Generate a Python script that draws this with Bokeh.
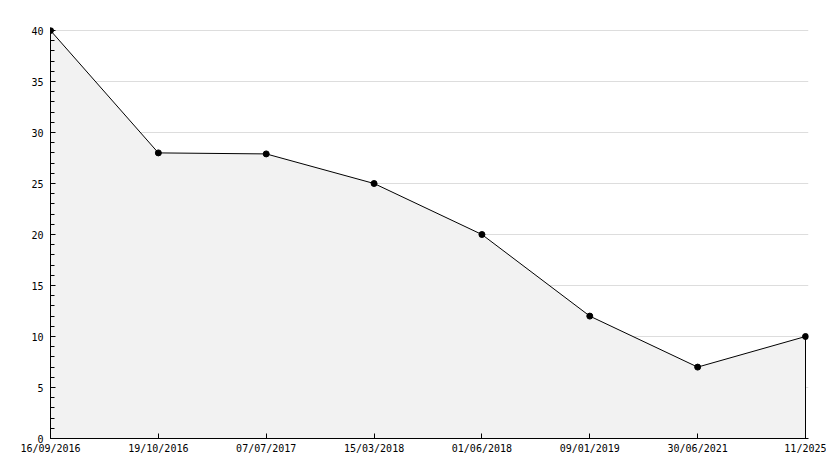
from bokeh.plotting import figure
from bokeh.models import Range1d, FixedTicker, SingleIntervalTicker
from bokeh.embed import file_html
from bokeh.resources import INLINE

dates = ["16/09/2016", "19/10/2016", "07/07/2017", "15/03/2018",
         "01/06/2018", "09/01/2019", "30/06/2021", "11/2025"]
values = [40, 28, 27.9, 25, 20, 12, 7, 10]

xs = list(range(len(dates)))

# small padding beyond the last point / top value so markers are not clipped
x_end = (len(dates) - 1) + 3 / (755 / (len(dates) - 1))
y_end = 40 + 3 / (408 / 40)

p = figure(width=826, height=460, output_backend="svg", toolbar_location=None,
           x_range=Range1d(0, x_end), y_range=Range1d(0, y_end),
           min_border_left=50, min_border_right=18, min_border_top=27,
           min_border_bottom=22)
p.outline_line_color = None
p.background_fill_color = "white"

# filled area with outline (closing down to baseline)
px = [xs[0]] + xs + [xs[-1]]
py = [0] + values + [0]
p.patch(px, py, fill_color="#f2f2f2", line_color="black", line_width=1)
p.scatter(xs, values, marker="circle", size=6, color="black")

# axes
p.xaxis.ticker = FixedTicker(ticks=xs)
p.xaxis.major_label_overrides = {i: d for i, d in enumerate(dates)}
p.yaxis.ticker = SingleIntervalTicker(interval=5, num_minor_ticks=5)

for ax in (p.xaxis[0], p.yaxis[0]):
    ax.axis_line_color = "black"
    ax.axis_line_width = 1
    ax.major_tick_line_color = "black"
    ax.minor_tick_line_color = "black"
    ax.major_tick_in = 5
    ax.major_tick_out = 0
    ax.minor_tick_in = 4
    ax.minor_tick_out = 0
    ax.major_label_text_font = "DejaVu Sans Mono"
    ax.major_label_text_font_size = "10px"
    ax.major_label_text_color = "black"
    ax.major_label_standoff = 4

p.yaxis.major_label_standoff = 7
p.xaxis.minor_tick_line_color = None
p.xgrid.grid_line_color = None
p.ygrid.grid_line_color = "#dddddd"
p.ygrid.level = "underlay"

open("out.html", "w").write(file_html(p, INLINE))
